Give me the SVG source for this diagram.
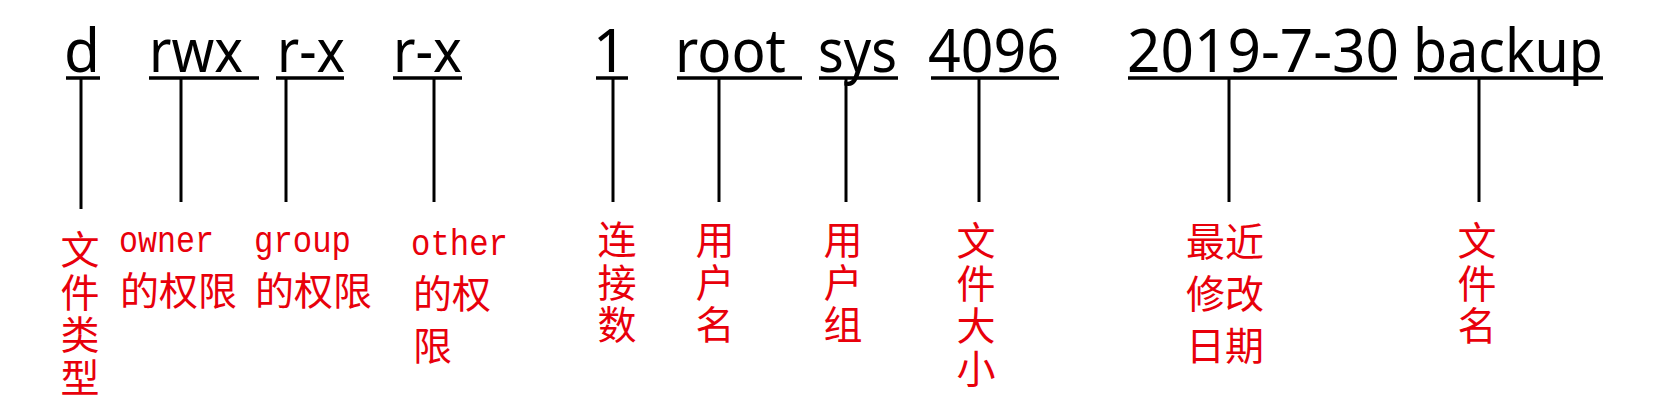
<svg xmlns="http://www.w3.org/2000/svg" width="1673" height="420" viewBox="0 0 1673 420">
<style>
.w{font-family:"Noto Sans","Open Sans","Liberation Sans",sans-serif;font-size:60px;fill:#000}
.ul{stroke:#000;stroke-width:3.5;fill:none}
.c{stroke:#000;stroke-width:3;fill:none}
.cn{font-family:"Noto Sans CJK SC","Noto Sans",sans-serif;font-size:39px;fill:#e8000b}
.v{writing-mode:vertical-rl;text-orientation:upright;letter-spacing:3.5px}
.m{font-family:"Liberation Mono",monospace;font-size:36px;fill:#e8000b}
.mid{text-anchor:middle}
</style>
<rect width="1673" height="420" fill="#fff"/>
<g id="connectors">
<line class="c" x1="81" y1="78" x2="81" y2="209"/>
<line class="c" x1="181" y1="78" x2="181" y2="202"/>
<line class="c" x1="286" y1="78" x2="286" y2="202"/>
<line class="c" x1="434" y1="78" x2="434" y2="202"/>
<line class="c" x1="613" y1="78" x2="613" y2="202"/>
<line class="c" x1="719" y1="78" x2="719" y2="202"/>
<line class="c" x1="846" y1="78" x2="846" y2="202"/>
<line class="c" x1="979" y1="78" x2="979" y2="202"/>
<line class="c" x1="1229" y1="78" x2="1229" y2="202"/>
<line class="c" x1="1479" y1="78" x2="1479" y2="202"/>
</g>
<g id="type">
<text class="w" x="64" y="72" textLength="36" lengthAdjust="spacingAndGlyphs">d</text>
<line class="ul" x1="66" y1="78" x2="100" y2="78"/>
<text class="cn v" x="80" y="230">文件类型</text>
</g>
<g id="owner">
<text class="w" x="149" y="72" textLength="94" lengthAdjust="spacingAndGlyphs">rwx</text>
<line class="ul" x1="149" y1="78" x2="259" y2="78"/>
<text class="m" x="119" y="252" textLength="95" lengthAdjust="spacingAndGlyphs">owner</text>
<text class="cn" x="120" y="305">的权限</text>
</g>
<g id="group">
<text class="w" x="277" y="72" textLength="68" lengthAdjust="spacingAndGlyphs">r-x</text>
<line class="ul" x1="276" y1="78" x2="344" y2="78"/>
<text class="m" x="254" y="252" textLength="97" lengthAdjust="spacingAndGlyphs">group</text>
<text class="cn" x="255" y="305">的权限</text>
</g>
<g id="other">
<text class="w" x="393" y="72" textLength="69" lengthAdjust="spacingAndGlyphs">r-x</text>
<line class="ul" x1="393" y1="78" x2="462" y2="78"/>
<text class="m" x="411" y="255" textLength="97" lengthAdjust="spacingAndGlyphs">other</text>
<text class="cn" x="413"><tspan x="413" y="308">的权</tspan><tspan x="413" y="360">限</tspan></text>
</g>
<g id="links">
<text class="w mid" x="610" y="72">1</text>
<line class="ul" x1="596" y1="78" x2="628" y2="78"/>
<text class="cn v" x="617" y="220">连接数</text>
</g>
<g id="user">
<text class="w" x="675" y="72" textLength="111" lengthAdjust="spacingAndGlyphs">root</text>
<line class="ul" x1="677" y1="78" x2="802" y2="78"/>
<text class="cn v" x="715" y="220">用户名</text>
</g>
<g id="usergroup">
<text class="w" x="818" y="72" textLength="79" lengthAdjust="spacingAndGlyphs">sys</text>
<line class="ul" x1="819" y1="78" x2="898" y2="78"/>
<text class="cn v" x="843" y="220">用户组</text>
</g>
<g id="size">
<text class="w" x="928" y="72" textLength="131" lengthAdjust="spacingAndGlyphs">4096</text>
<line class="ul" x1="931" y1="78" x2="1059" y2="78"/>
<text class="cn v" x="976" y="221">文件大小</text>
</g>
<g id="date">
<text class="w" x="1127" y="72" textLength="272" lengthAdjust="spacingAndGlyphs">2019-7-30</text>
<line class="ul" x1="1128" y1="78" x2="1397" y2="78"/>
<text class="cn"><tspan x="1186" y="256">最近</tspan><tspan x="1186" y="308">修改</tspan><tspan x="1186" y="360">日期</tspan></text>
</g>
<g id="name">
<text class="w" x="1413" y="72" textLength="190" lengthAdjust="spacingAndGlyphs">backup</text>
<line class="ul" x1="1414" y1="78" x2="1603" y2="78"/>
<text class="cn v" x="1477" y="221">文件名</text>
</g>
</svg>
